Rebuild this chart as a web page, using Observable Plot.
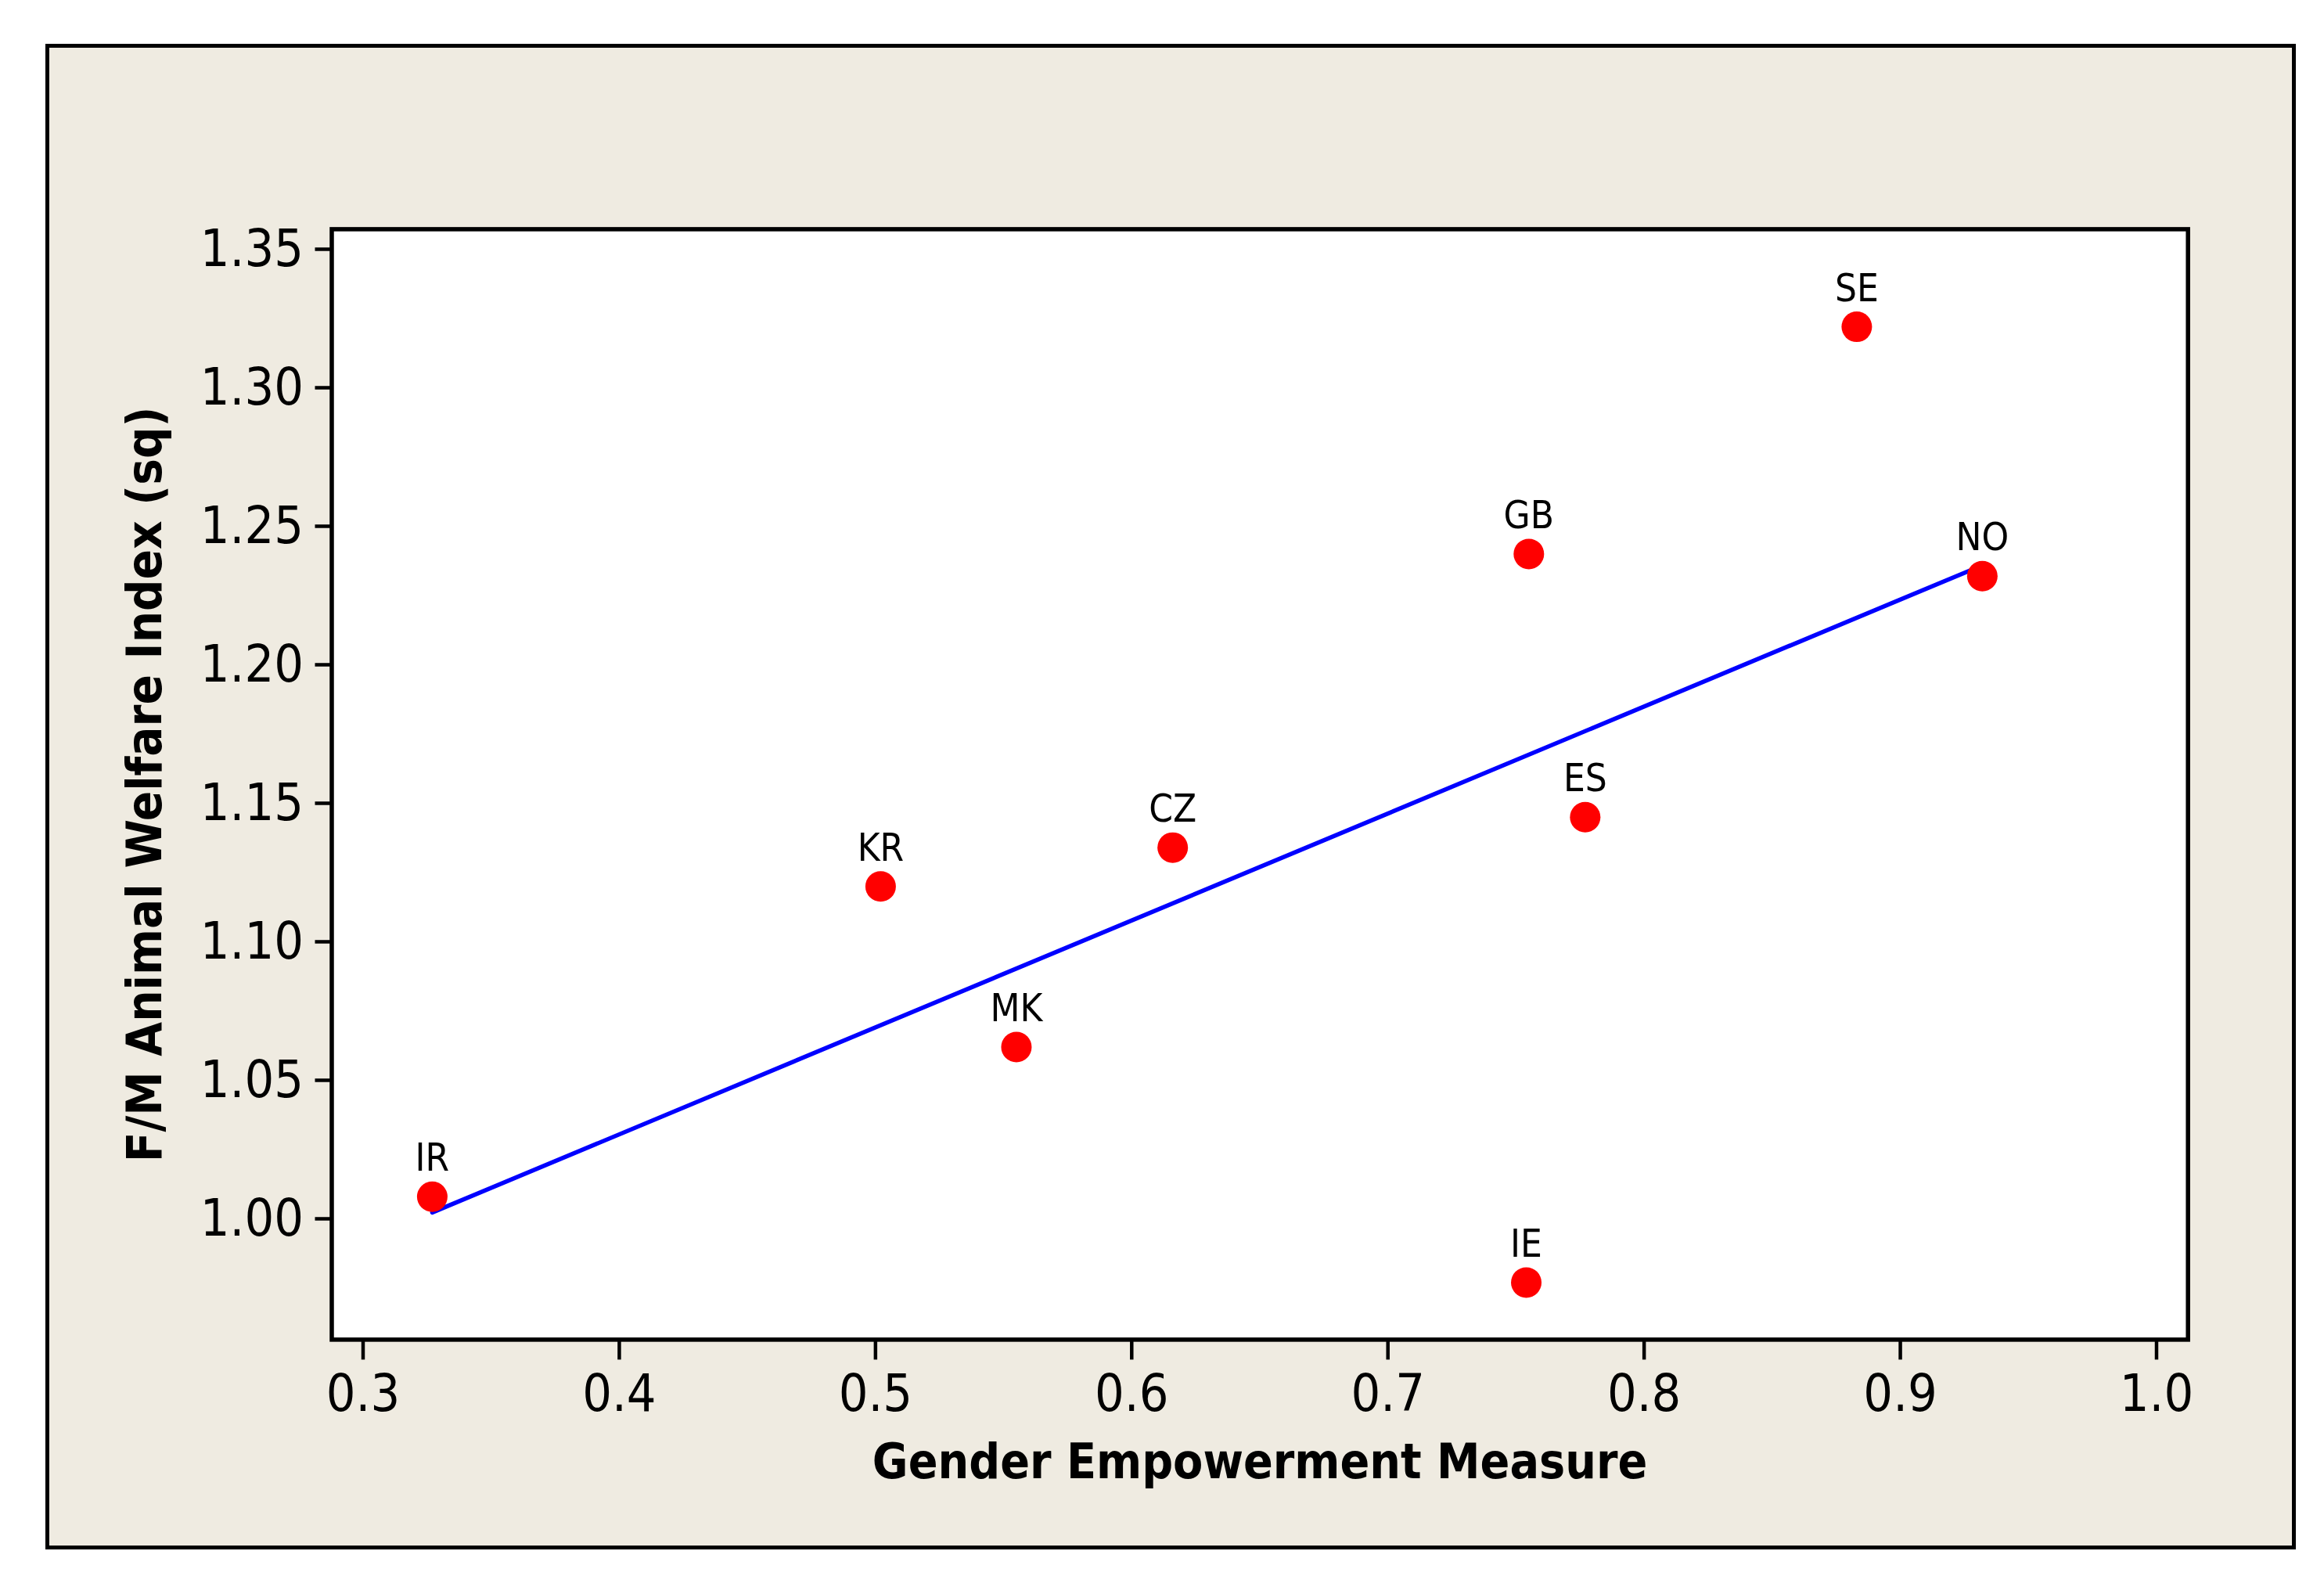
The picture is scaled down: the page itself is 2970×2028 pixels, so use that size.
<!DOCTYPE html>
<html>
<head>
<meta charset="utf-8">
<script src="https://cdn.jsdelivr.net/npm/d3@7"></script>
<script src="https://cdn.jsdelivr.net/npm/@observablehq/plot@0.6"></script>
<style>
  html, body { margin: 0; padding: 0; background: #ffffff; }
  svg { display: block; }
</style>
</head>
<body>
<div id="chart"></div>
<script>
// Data
const countries = ["IR", "KR", "MK", "CZ", "GB", "IE", "ES", "SE", "NO"];
const gem = [0.327, 0.502, 0.555, 0.616, 0.755, 0.754, 0.777, 0.883, 0.932];
const welfare = [1.008, 1.120, 1.062, 1.134, 1.240, 0.977, 1.145, 1.322, 1.232];
const xTicks = [0.3, 0.4, 0.5, 0.6, 0.7, 0.8, 0.9, 1.0];
const yTicks = [1.00, 1.05, 1.10, 1.15, 1.20, 1.25, 1.30, 1.35];
const xLabel = "Gender Empowerment Measure";
const yLabel = "F/M Animal Welfare Index (sq)";

const data = countries.map((c, i) => ({country: c, gem: gem[i], welfare: welfare[i]}));

const FONT = "'DejaVu Sans Condensed', 'DejaVu Sans', Verdana, sans-serif";

const chart = Plot.plot({
  width: 2970,
  height: 2028,
  marginLeft: 423.5,
  marginRight: 174.3,
  marginTop: 292.4,
  marginBottom: 316.6,
  style: {fontFamily: FONT, fontStretch: "condensed", background: "white", color: "black"},
  x: {domain: [0.28778, 1.01228]},
  y: {domain: [0.95638, 1.35723]},
  marks: [
    // outer beige panel
    Plot.frame({fill: "#efebe1", stroke: "black", strokeWidth: 5,
      insetLeft: -363.5, insetTop: -234.4, insetRight: -135.3, insetBottom: -265.6}),
    // plot area
    Plot.frame({fill: "white", stroke: "none"}),
    Plot.axisX({ticks: xTicks, tickFormat: ".1f", tickSize: 26, tickPadding: 18,
      fontSize: 66, strokeWidth: 4.5, label: null}),
    Plot.axisY({ticks: yTicks, tickFormat: ".2f", tickSize: 21, tickPadding: 15,
      fontSize: 66, strokeWidth: 4.5, label: null}),
    Plot.text([xLabel], {text: d => d, frameAnchor: "bottom", dy: 176.6, lineAnchor: "bottom",
      textAnchor: "middle", fontSize: 62, fontWeight: "bold", fill: "black"}),
    Plot.text([yLabel], {text: d => d, frameAnchor: "left", rotate: -90, dx: -218.5, lineAnchor: "bottom",
      textAnchor: "middle", fontSize: 63, fontWeight: "bold", fill: "black"}),
    Plot.linearRegressionY(data, {x: "gem", y: "welfare", ci: 0, stroke: "#0000ff", strokeWidth: 5.5}),
    Plot.dot(data, {x: "gem", y: "welfare", r: 19.5, fill: "#ff0000", stroke: "none"}),
    Plot.text(data, {x: "gem", y: "welfare", text: "country", dy: -33, lineAnchor: "bottom",
      fontSize: 49, fill: "black"}),
    Plot.frame({stroke: "black", strokeWidth: 5.5})
  ]
});

document.getElementById("chart").appendChild(chart);
</script>
</body>
</html>
